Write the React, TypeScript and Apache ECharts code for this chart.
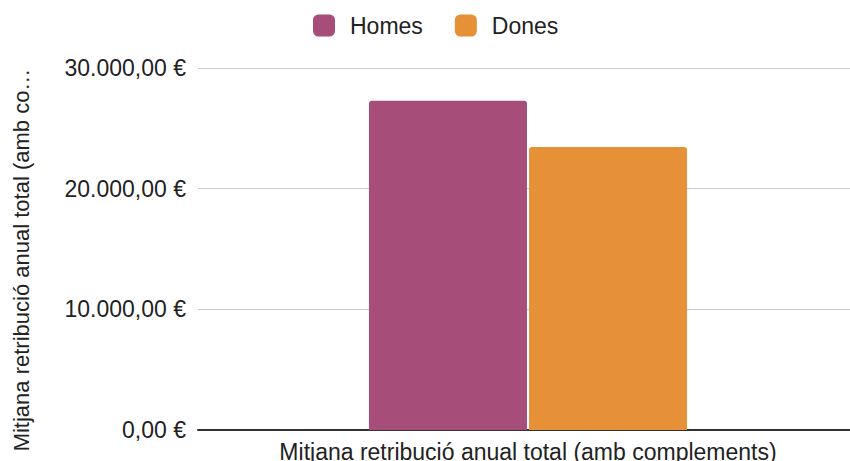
import React, { useEffect, useRef } from "react";
import * as echarts from "echarts";

const categories = ["Mitjana retribució anual total (amb complements)"];
const seriesNames = ["Homes", "Dones"];
const homesValues = [27280];
const donesValues = [23460];
const colors = ["#a64d79", "#e69138"];
const yAxisTitle = "Mitjana retribució anual total (amb complements)";

const fmt = (v: number) =>
  v.toLocaleString("de-DE", { minimumFractionDigits: 2, maximumFractionDigits: 2 }) + " €";

export default function App() {
  const ref = useRef<HTMLDivElement>(null);
  useEffect(() => {
    if (!ref.current) return;
    const chart = echarts.init(ref.current, null, { renderer: "svg" });
    const font = "'Liberation Sans', Arial, sans-serif";
    chart.setOption({
      animation: false,
      textStyle: { fontFamily: font },
      legend: {
        top: 9,
        left: 308,
        itemWidth: 22,
        itemHeight: 22,
        itemGap: 32,
        icon: "roundRect",
        textStyle: { fontSize: 23, color: "#222", fontFamily: font, padding: [0, 0, 0, 10] },
        data: seriesNames,
      },
      grid: {
        left: 198,
        right: -8,
        top: 68,
        bottom: 31,
        containLabel: false,
        outerBoundsMode: "none",
      },
      xAxis: {
        type: "category",
        data: categories,
        axisLine: { lineStyle: { color: "#333", width: 2 } },
        axisTick: { show: false },
        axisLabel: { fontSize: 23, color: "#222", margin: 10, fontFamily: font },
      },
      yAxis: {
        type: "value",
        min: 0,
        max: 30000,
        interval: 10000,
        name: yAxisTitle,
        nameLocation: "middle",
        nameGap: 166,
        nameMoveOverlap: false,
        nameTruncate: { maxWidth: 394, ellipsis: "…" },
        nameTextStyle: {
          fontSize: 22,
          color: "#222",
          fontFamily: font,
          padding: [0, 22, 0, 0],
        },
        axisLine: { show: false },
        axisTick: { show: false },
        splitLine: { lineStyle: { color: "#cccccc", width: 1 } },
        axisLabel: {
          fontSize: 23,
          color: "#222",
          margin: 12,
          fontFamily: font,
          formatter: (v: number) => fmt(v),
        },
      },
      series: [
        {
          name: seriesNames[0],
          type: "bar",
          data: homesValues,
          barWidth: 158,
          barGap: "1.3%",
          itemStyle: { color: colors[0], borderRadius: [3, 3, 0, 0] },
        },
        {
          name: seriesNames[1],
          type: "bar",
          data: donesValues,
          barWidth: 158,
          barGap: "1.3%",
          itemStyle: { color: colors[1], borderRadius: [3, 3, 0, 0] },
        },
      ],
    });
    return () => chart.dispose();
  }, []);
  return <div ref={ref} style={{ width: 850, height: 461, position: "absolute", left: 0, top: 0 }} />;
}
